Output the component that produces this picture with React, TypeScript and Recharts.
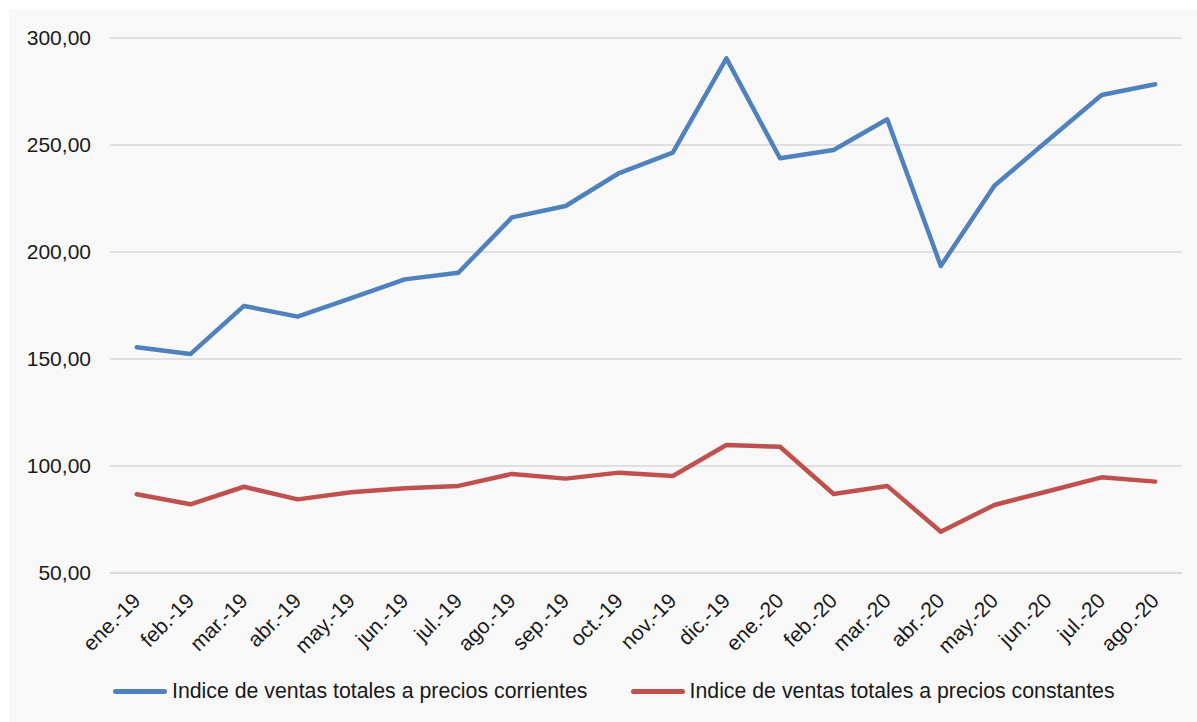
import React from 'react'
import { LineChart, Line, XAxis, YAxis, CartesianGrid } from 'recharts'

const MONTHS = [
  'ene.-19', 'feb.-19', 'mar.-19', 'abr.-19', 'may.-19', 'jun.-19', 'jul.-19',
  'ago.-19', 'sep.-19', 'oct.-19', 'nov.-19', 'dic.-19', 'ene.-20', 'feb.-20',
  'mar.-20', 'abr.-20', 'may.-20', 'jun.-20', 'jul.-20', 'ago.-20',
]

const CORRIENTES = [
  155.5, 152.3, 174.8, 169.8, 178.4, 187.2, 190.3, 216.2, 221.5, 236.9,
  246.4, 290.5, 243.8, 247.7, 262.0, 193.5, 231.0, 252.2, 273.4, 278.4,
]

const CONSTANTES = [
  86.8, 82.1, 90.3, 84.4, 87.7, 89.6, 90.7, 96.3, 94.1, 96.9,
  95.3, 109.8, 109.0, 86.9, 90.7, 69.3, 81.8, 88.2, 94.7, 92.7,
]

const Y_TICKS = [50, 100, 150, 200, 250, 300]

const SERIES = [
  { key: 'corrientes', name: 'Indice de ventas totales a precios corrientes', color: '#4f81bd' },
  { key: 'constantes', name: 'Indice de ventas totales a precios constantes', color: '#c0504d' },
]

const data = MONTHS.map((m, i) => ({
  x: i + 0.5,
  month: m,
  corrientes: CORRIENTES[i],
  constantes: CONSTANTES[i],
}))

const edgeTicks = MONTHS.map((_, i) => i).concat(MONTHS.length)
const centerTicks = MONTHS.map((_, i) => i + 0.5)

const FONT = 'Liberation Sans, Arial, Helvetica, sans-serif'
const GRID = '#d9d9d9'

function fmt(v: number) {
  return v.toFixed(2).replace('.', ',')
}

function MonthTick({ x, y, payload }: any) {
  const label = MONTHS[Math.floor(payload.value)]
  const ax = x + 5
  const ay = y + 13
  return (
    <text
      x={ax}
      y={ay}
      textAnchor="end"
      fontSize={21}
      fill="#1a1a1a"
      fontFamily={FONT}
      transform={`rotate(-45, ${ax}, ${ay})`}
    >
      {label}
    </text>
  )
}

export default function App() {
  return (
    <div style={{ position: 'absolute', left: 9, top: 9, width: 1188, height: 713, background: '#f8f8f8', fontFamily: FONT }}>
      <LineChart width={1188} height={713} data={data} margin={{ top: 29, right: 15, bottom: 61, left: 0 }}>
        <CartesianGrid vertical={false} stroke={GRID} strokeWidth={1.5} />
        <XAxis
          xAxisId="edges"
          dataKey="x"
          type="number"
          domain={[0, MONTHS.length]}
          ticks={edgeTicks}
          tick={false}
          height={8}
          tickSize={6}
          stroke={GRID}
          strokeWidth={1.5}
        />
        <XAxis
          xAxisId="labels"
          dataKey="x"
          type="number"
          domain={[0, MONTHS.length]}
          ticks={centerTicks}
          interval={0}
          axisLine={false}
          tickLine={false}
          tick={<MonthTick />}
          height={80}
        />
        <YAxis
          domain={[50, 300]}
          ticks={Y_TICKS}
          tickFormatter={fmt}
          axisLine={false}
          tickLine={false}
          tickSize={0}
          tickMargin={19}
          width={101}
          tick={{ fontSize: 21, fill: '#1a1a1a', fontFamily: FONT }}
        />
        {SERIES.map(s => (
          <Line
            key={s.key}
            xAxisId="edges"
            dataKey={s.key}
            name={s.name}
            stroke={s.color}
            strokeWidth={4.5}
            strokeLinecap="round"
            strokeLinejoin="round"
            dot={false}
            activeDot={false}
            isAnimationActive={false}
          />
        ))}
      </LineChart>
      <div style={{ position: 'absolute', left: 104, top: 670, display: 'flex', alignItems: 'center', fontSize: 21.3, color: '#1a1a1a' }}>
        {SERIES.map((s, i) => (
          <div key={s.key} style={{ display: 'flex', alignItems: 'center', marginRight: i === 0 ? 43 : 0 }}>
            <span style={{ display: 'inline-block', width: 54, height: 5, borderRadius: 3, background: s.color, marginRight: 5 }} />
            <span>{s.name}</span>
          </div>
        ))}
      </div>
    </div>
  )
}
